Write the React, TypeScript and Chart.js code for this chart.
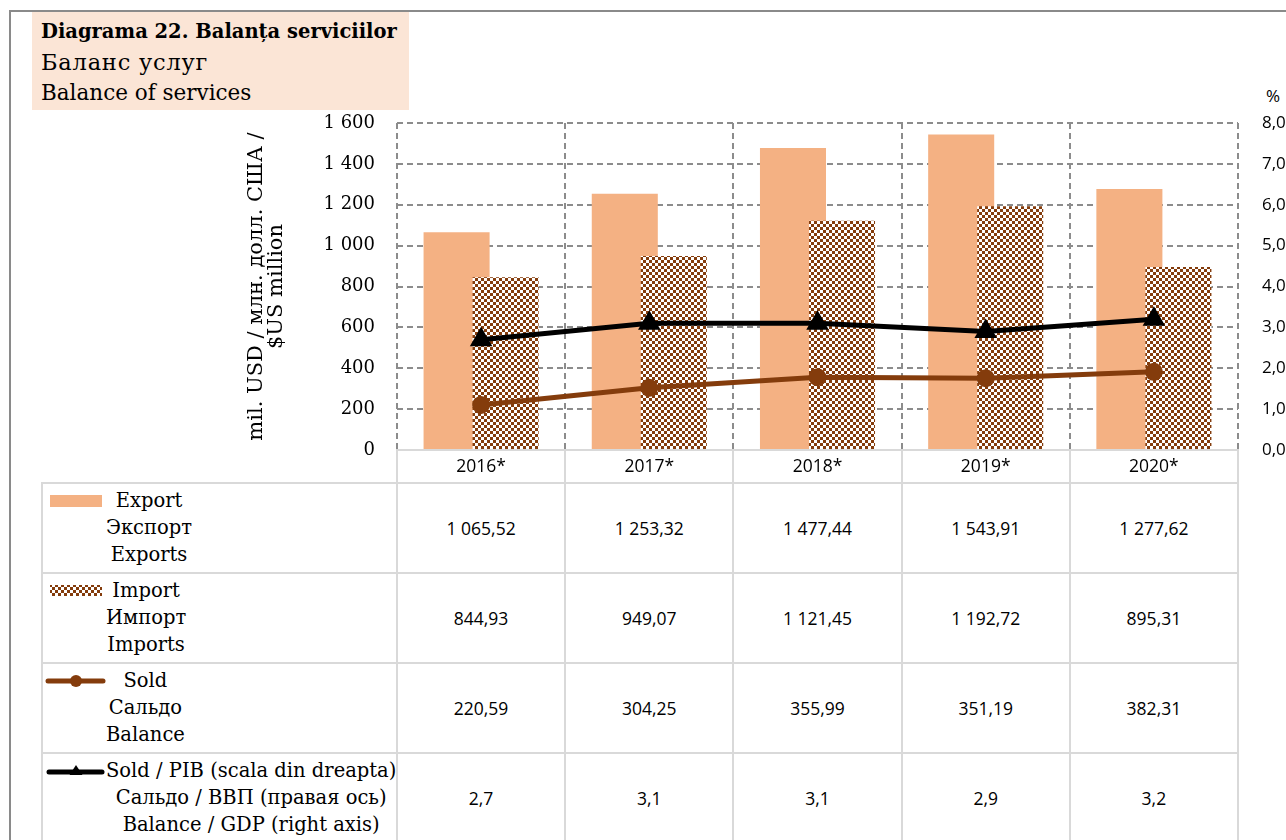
import React, { useEffect, useRef } from 'react';
import { Chart, registerables } from 'chart.js';

Chart.register(...registerables);

// ---------- data ----------
const categories = ['2016*', '2017*', '2018*', '2019*', '2020*'];
const exportValues = [1065.52, 1253.32, 1477.44, 1543.91, 1277.62];
const importValues = [844.93, 949.07, 1121.45, 1192.72, 895.31];
const balanceValues = [220.59, 304.25, 355.99, 351.19, 382.31];
const balanceGdpValues = [2.7, 3.1, 3.1, 2.9, 3.2];

const titleLines = ['Diagrama 22. Balanța serviciilor', 'Баланс услуг', 'Balance of services'];
const yAxisTitle = ['mil. USD / млн. долл. США /', '$US million'];
const rightAxisUnit = '%';
const legendExport = ['Export', 'Экспорт', 'Exports'];
const legendImport = ['Import', 'Импорт', 'Imports'];
const legendBalance = ['Sold', 'Сальдо', 'Balance'];
const legendBalanceGdp = ['Sold / PIB (scala din dreapta)', 'Сальдо / ВВП (правая ось)', 'Balance / GDP (right axis)'];

// ---------- style ----------
const EXPORT_COLOR = '#F4B183';
const BROWN = '#843C0C';
const BLACK = '#000000';
const GRID_COLOR = '#8c8c8c';
const TABLE_LINE = '#d9d9d9';
const SERIF = '"DejaVu Serif", serif';
const SANS = '"Open Sans", "Noto Sans", sans-serif';

const CANVAS_LEFT = 220;
const CANVAS_TOP = 95;
const CANVAS_W = 1066;
const CANVAS_H = 395;
const LEFT_AXIS_W = 177;
const RIGHT_AXIS_W = 48;
const TOP_PAD = 28;
const X_AXIS_H = 40;

const PLOT_LEFT = CANVAS_LEFT + LEFT_AXIS_W;
const PLOT_RIGHT = CANVAS_LEFT + CANVAS_W - RIGHT_AXIS_W;
const COL_W = (PLOT_RIGHT - PLOT_LEFT) / categories.length;
const TABLE_LEFT = 42;
const ROW_EDGES = [450, 483, 573, 663, 753, 843];

const fmtThousands = (s: string) => s.replace(/\B(?=(\d{3})+(?!\d))/g, ' ');
const fmtNum = (v: number, d: number) => {
  const [i, f] = v.toFixed(d).split('.');
  return fmtThousands(i) + (f ? ',' + f : '');
};

function ChartCanvas() {
  const ref = useRef<HTMLCanvasElement | null>(null);
  useEffect(() => {
    const canvas = ref.current;
    if (!canvas) return;
    const ctx = canvas.getContext('2d')!;
    const pc = document.createElement('canvas');
    pc.width = 6;
    pc.height = 6;
    const g = pc.getContext('2d')!;
    g.fillStyle = '#ffffff';
    g.fillRect(0, 0, 6, 6);
    g.fillStyle = BROWN;
    g.fillRect(0, 0, 3, 3);
    g.fillRect(3, 3, 3, 3);
    const checker = ctx.createPattern(pc, 'repeat')!;

    const exportUnder = {
      id: 'exportUnder',
      beforeDatasetsDraw(chart: any) {
        chart.getDatasetMeta(0).controller.draw();
      },
      beforeDatasetDraw(_chart: any, args: any) {
        if (args.index === 0) return false;
        return true;
      },
    };

    const chart = new Chart(ctx, {
      type: 'bar',
      data: {
        labels: categories,
        datasets: [
          {
            type: 'bar',
            label: legendExport[0],
            data: exportValues,
            backgroundColor: EXPORT_COLOR,
            borderWidth: 0,
            yAxisID: 'y',
            order: 1,
            categoryPercentage: 0.583,
            barPercentage: 1.347,
          },
          {
            type: 'bar',
            label: legendImport[0],
            data: importValues,
            backgroundColor: checker,
            borderWidth: 0,
            yAxisID: 'y',
            order: 1,
            categoryPercentage: 0.583,
            barPercentage: 1.347,
          },
          {
            type: 'line',
            label: legendBalance[0],
            data: balanceValues,
            borderColor: BROWN,
            backgroundColor: BROWN,
            borderWidth: 5,
            pointRadius: 9,
            pointBorderWidth: 0,
            pointStyle: 'circle',
            tension: 0,
            yAxisID: 'y',
            order: 0,
          },
          {
            type: 'line',
            label: legendBalanceGdp[0],
            data: balanceGdpValues,
            borderColor: BLACK,
            backgroundColor: BLACK,
            borderWidth: 5,
            pointRadius: 13,
            pointBorderWidth: 0,
            pointStyle: 'triangle',
            tension: 0,
            yAxisID: 'y1',
            order: 0,
          },
        ] as any,
      },
      options: {
        animation: false,
        responsive: false,
        maintainAspectRatio: false,
        devicePixelRatio: 1,
        layout: { padding: { top: TOP_PAD, left: 0, right: 0, bottom: 0 } },
        plugins: { legend: { display: false }, tooltip: { enabled: false } },
        scales: {
          x: {
            offset: true,
            grid: { offset: true, color: GRID_COLOR, lineWidth: 2, drawTicks: false },
            border: { display: false, dash: [6, 4] },
            ticks: { color: '#000', font: { family: SANS, size: 17.5 }, padding: 7 },
            afterFit: (s: any) => {
              s.height = X_AXIS_H;
              s.paddingLeft = 0;
              s.paddingRight = 0;
            },
          },
          y: {
            position: 'left',
            min: 0,
            max: 1600,
            grid: {
              color: (c: any) => (c.tick && c.tick.value === 0 ? 'rgba(0,0,0,0)' : GRID_COLOR),
              lineWidth: 2,
              drawTicks: false,
            },
            border: { display: false, dash: [6, 4] },
            ticks: {
              stepSize: 200,
              color: '#000',
              font: { family: SERIF, size: 18 },
              padding: 22,
              callback: (v: any) => fmtThousands(String(v)),
            },
            title: {
              display: true,
              text: yAxisTitle,
              color: '#000',
              font: { family: SERIF, size: 21, lineHeight: 0.95 },
              padding: { top: 27, bottom: 0 },
            },
            afterFit: (s: any) => {
              s.width = LEFT_AXIS_W;
              s.paddingTop = 0;
              s.paddingBottom = 0;
            },
          },
          y1: {
            position: 'right',
            min: 0,
            max: 8,
            grid: { display: false, drawTicks: false },
            border: { display: false },
            ticks: {
              stepSize: 1,
              color: '#000',
              font: { family: SANS, size: 17 },
              padding: 24,
              callback: (v: any) => Number(v).toFixed(1).replace('.', ','),
            },
            afterFit: (s: any) => {
              s.width = RIGHT_AXIS_W;
              s.paddingTop = 0;
              s.paddingBottom = 0;
            },
          },
        },
      } as any,
      plugins: [exportUnder as any],
    });
    return () => chart.destroy();
  }, []);
  return (
    <canvas
      ref={ref}
      width={CANVAS_W}
      height={CANVAS_H}
      style={{ position: 'absolute', left: CANVAS_LEFT, top: CANVAS_TOP, width: CANVAS_W, height: CANVAS_H, zIndex: 2 }}
    />
  );
}

function HLine({ x1, x2, y }: { x1: number; x2: number; y: number }) {
  return <div style={{ position: 'absolute', left: x1 - 1, top: y - 1, width: x2 - x1 + 2, height: 2, background: TABLE_LINE }} />;
}
function VLine({ x, y1, y2 }: { x: number; y1: number; y2: number }) {
  return <div style={{ position: 'absolute', left: x - 1, top: y1 - 1, width: 2, height: y2 - y1 + 2, background: TABLE_LINE }} />;
}

function Swatch({ kind }: { kind: number }) {
  if (kind === 0) {
    return (
      <svg width={60} height={20} style={{ position: 'absolute', left: 4, top: 8 }}>
        <rect x={4} y={4} width={52} height={12} fill={EXPORT_COLOR} />
      </svg>
    );
  }
  if (kind === 1) {
    return (
      <svg width={60} height={20} style={{ position: 'absolute', left: 4, top: 8 }}>
        <defs>
          <pattern id="chk" width={6} height={6} patternUnits="userSpaceOnUse">
            <rect width={6} height={6} fill="#fff" />
            <rect width={3} height={3} fill={BROWN} />
            <rect x={3} y={3} width={3} height={3} fill={BROWN} />
          </pattern>
        </defs>
        <rect x={4} y={4} width={52} height={11} fill="url(#chk)" />
      </svg>
    );
  }
  if (kind === 2) {
    return (
      <svg width={64} height={20} style={{ position: 'absolute', left: 0, top: 8 }}>
        <line x1={6} y1={10} x2={61} y2={10} stroke={BROWN} strokeWidth={5} strokeLinecap="round" />
        <circle cx={34} cy={10} r={6} fill={BROWN} />
      </svg>
    );
  }
  return (
    <svg width={64} height={20} style={{ position: 'absolute', left: 0, top: 9 }}>
      <line x1={7} y1={10} x2={60} y2={10} stroke={BLACK} strokeWidth={5} strokeLinecap="round" />
      <polygon points="34,3 40.5,13 27.5,13" fill={BLACK} />
    </svg>
  );
}

export default function App() {
  const legends = [legendExport, legendImport, legendBalance, legendBalanceGdp];
  const rows = [
    exportValues.map((v) => fmtNum(v, 2)),
    importValues.map((v) => fmtNum(v, 2)),
    balanceValues.map((v) => fmtNum(v, 2)),
    balanceGdpValues.map((v) => fmtNum(v, 1)),
  ];
  const colEdges = categories.map((_, i) => PLOT_LEFT + i * COL_W).concat([PLOT_RIGHT]);
  return (
    <div style={{ position: 'fixed', left: 0, top: 0, width: 1286, height: 840, overflow: 'hidden', background: '#fff' }}>
      {/* outer frame */}
      <div style={{ position: 'absolute', left: 9, top: 10, width: 1300, height: 900, borderTop: '2px solid #8a8a8a', borderLeft: '2px solid #8a8a8a' }} />
      {/* title box */}
      <div
        style={{
          position: 'absolute',
          left: 32,
          top: 12,
          width: 377,
          height: 98,
          background: '#FBE5D6',
          boxSizing: 'border-box',
          paddingLeft: 9,
          paddingTop: 5,
          color: '#000',
          fontFamily: SERIF,
          whiteSpace: 'nowrap',
        }}
      >
        <div style={{ fontWeight: 'bold', fontSize: 19.5, lineHeight: '30px' }}>{titleLines[0]}</div>
        <div style={{ fontSize: 22.5, lineHeight: '30px', letterSpacing: 0.8 }}>{titleLines[1]}</div>
        <div style={{ fontSize: 21.5, lineHeight: '31px' }}>{titleLines[2]}</div>
      </div>
      {/* right axis unit */}
      <div style={{ position: 'absolute', left: 1266, top: 85, fontFamily: SANS, fontSize: 17, lineHeight: '22px', color: '#000' }}>
        {rightAxisUnit}
      </div>
      {/* table lines */}
      <HLine x1={PLOT_LEFT} x2={PLOT_RIGHT} y={ROW_EDGES[0]} />
      {ROW_EDGES.slice(1, 5).map((y, i) => (
        <HLine key={'h' + i} x1={TABLE_LEFT} x2={PLOT_RIGHT} y={y} />
      ))}
      <VLine x={TABLE_LEFT} y1={ROW_EDGES[1]} y2={850} />
      {colEdges.map((x, i) => (
        <VLine key={'v' + i} x={x} y1={ROW_EDGES[0]} y2={850} />
      ))}
      {/* legend cells */}
      {legends.map((lines, r) => (
        <div key={'l' + r} style={{ position: 'absolute', left: TABLE_LEFT, top: ROW_EDGES[r + 1], width: PLOT_LEFT - TABLE_LEFT, height: 90 }}>
          <Swatch kind={r} />
          <div
            style={{
              position: 'absolute',
              left: 106 - TABLE_LEFT,
              top: 4,
              textAlign: 'center',
              fontFamily: SERIF,
              fontSize: 19.5,
              lineHeight: '27px',
              whiteSpace: 'nowrap',
              color: '#000',
            }}
          >
            {lines.map((t, k) => (
              <div key={k}>{t}</div>
            ))}
          </div>
        </div>
      ))}
      {/* value cells */}
      {rows.map((vals, r) =>
        vals.map((t, c) => (
          <div
            key={'c' + r + '_' + c}
            style={{
              position: 'absolute',
              left: colEdges[c],
              top: ROW_EDGES[r + 1],
              width: COL_W,
              height: ROW_EDGES[r + 2] - ROW_EDGES[r + 1],
              display: 'flex',
              alignItems: 'center',
              justifyContent: 'center',
              fontFamily: SANS,
              fontSize: 17.5,
              color: '#000',
              whiteSpace: 'nowrap',
            }}
          >
            {t}
          </div>
        ))
      )}
      <ChartCanvas />
    </div>
  );
}
